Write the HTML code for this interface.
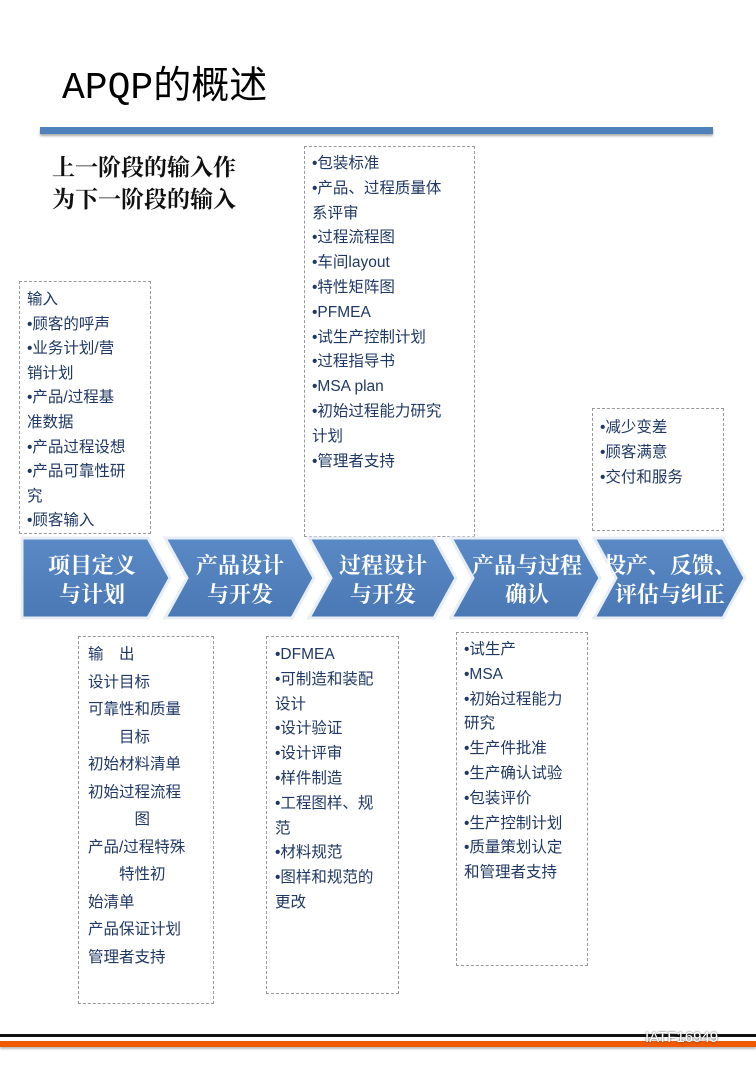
<!DOCTYPE html>
<html><head><meta charset="utf-8"><style>
body{margin:0;width:756px;height:1070px;background:#fff;position:relative;overflow:hidden;font-family:"Liberation Sans","Noto Sans CJK SC",sans-serif}
.a{position:absolute;white-space:nowrap}
.box{position:absolute;border:1px dashed #999;box-sizing:border-box}
.t{position:absolute;font-size:15.5px;color:#1f3864;white-space:nowrap;line-height:18px}
</style></head><body>
<div class="a" style="left:62px;top:54px;font-size:38px;color:#000;font-family:'Liberation Mono','Noto Sans CJK SC',sans-serif">APQP的概述</div>
<div class="a" style="left:40px;top:127px;width:673px;height:7px;background:#4f81bd;box-shadow:0 2px 2px #aaa"></div>
<div class="a" style="left:52px;top:151px;font-size:23px;line-height:32px;color:#111;font-family:'Liberation Sans','Noto Serif CJK SC',serif;font-weight:bold">上一阶段的输入作<br>为下一阶段的输入</div>

<div class="box" style="left:19px;top:281px;width:132px;height:253px"></div>
<div class="box" style="left:304px;top:146px;width:171px;height:391px"></div>
<div class="box" style="left:592px;top:408px;width:132px;height:123px"></div>
<div class="box" style="left:78px;top:636px;width:136px;height:368px"></div>
<div class="box" style="left:266px;top:636px;width:133px;height:358px"></div>
<div class="box" style="left:456px;top:632px;width:132px;height:334px"></div>

<div class="t" style="left:27px;top:288px;line-height:24.6px">输入<br>•顾客的呼声<br>•业务计划/营<br>销计划<br>•产品/过程基<br>准数据<br>•产品过程设想<br>•产品可靠性研<br>究<br>•顾客输入</div>
<div class="t" style="left:312px;top:152px;line-height:24.8px">•包装标准<br>•产品、过程质量体<br>系评审<br>•过程流程图<br>•车间layout<br>•特性矩阵图<br>•PFMEA<br>•试生产控制计划<br>•过程指导书<br>•MSA plan<br>•初始过程能力研究<br>计划<br>•管理者支持</div>
<div class="t" style="left:600px;top:415px;line-height:25px">•减少变差<br>•顾客满意<br>•交付和服务</div>
<div class="t" style="left:88px;top:641px;line-height:27.5px">输　出<br>设计目标<br>可靠性和质量<br>　　目标<br>初始材料清单<br>初始过程流程<br>　　　图<br>产品/过程特殊<br>　　特性初<br>始清单<br>产品保证计划<br>管理者支持</div>
<div class="t" style="left:275px;top:643px;line-height:24.8px">•DFMEA<br>•可制造和装配<br>设计<br>•设计验证<br>•设计评审<br>•样件制造<br>•工程图样、规<br>范<br>•材料规范<br>•图样和规范的<br>更改</div>
<div class="t" style="left:464px;top:638px;line-height:24.8px">•试生产<br>•MSA<br>•初始过程能力<br>研究<br>•生产件批准<br>•生产确认试验<br>•包装评价<br>•生产控制计划<br>•质量策划认定<br>和管理者支持</div>

<svg class="a" style="left:0;top:530px" width="756" height="100">
<defs><linearGradient id="g" x1="0" y1="0" x2="0" y2="1"><stop offset="0" stop-color="#5a8ac6"/><stop offset="1" stop-color="#4a78b5"/></linearGradient></defs>
<g stroke="#e8eef6" stroke-width="3" fill="url(#g)">
<polygon points="22,8 148,8 170,48 148,88 22,88"/>
<polygon points="165,8 292,8 314,48 292,88 165,88 187,48"/>
<polygon points="309,8 434,8 456,48 434,88 309,88 331,48"/>
<polygon points="451,8 578,8 600,48 578,88 451,88 473,48"/>
<polygon points="594,8 723,8 745,48 723,88 594,88 616,48"/>
</g>
<g fill="#fff" font-size="22" font-weight="bold" font-family="Liberation Serif,Noto Serif CJK SC,serif" text-anchor="middle">
<text x="92" y="43">项目定义</text><text x="92" y="72">与计划</text>
<text x="240" y="43">产品设计</text><text x="240" y="72">与开发</text>
<text x="383" y="43">过程设计</text><text x="383" y="72">与开发</text>
<text x="527" y="43">产品与过程</text><text x="527" y="72">确认</text>
<text x="670" y="43">投产、反馈、</text><text x="670" y="72">评估与纠正</text>
</g></svg>

<div class="a" style="left:0;top:1034px;width:756px;height:3px;background:#111"></div>
<div class="a" style="left:0;top:1041px;width:756px;height:6px;background:#f05a00;box-shadow:0 2px 2px #bbb"></div>
<div class="a" style="left:645px;top:1029px;font-size:15px;color:#fff;text-shadow:0 0 2px #333">IATF16949</div>
</body></html>
